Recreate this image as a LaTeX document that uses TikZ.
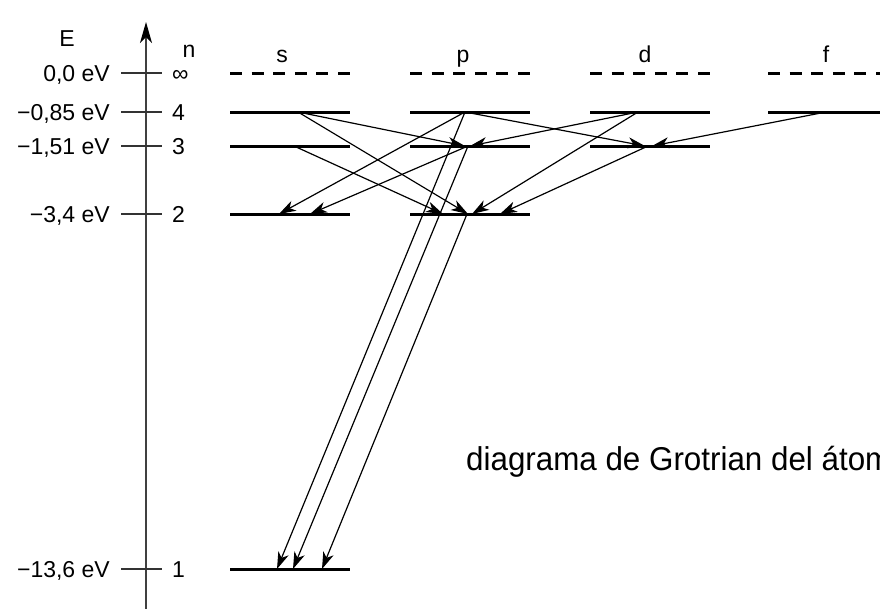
\documentclass[tikz,border=0pt]{standalone}
\usepackage{fontspec}
\setmainfont{Liberation Sans}
\newfontfamily\titlefont[FakeStretch=0.95]{Liberation Sans}
\usetikzlibrary{arrows.meta}

\begin{document}
\begin{tikzpicture}[x=1pt,y=-1pt, line join=round,
    elevel/.style={line width=3pt},
    jump/.style={-{Stealth[length=17pt,width=11pt,inset=5pt]},line width=1.2pt},
    etick/.style={line width=1.3pt,black!80},
    lab/.style={font=\fontsize{23}{24}\selectfont,inner sep=0pt},
    head/.style={font=\fontsize{23}{24}\selectfont,inner sep=0pt,anchor=base}]
        \useasboundingbox (0,0) rectangle (880,608);
        \clip (0,0) rectangle (880,608);
        % energy axis
        \draw[black!75,line width=1.5pt,-{Stealth[length=21pt,width=12pt,inset=6pt,color=black]}] (146,610)--(146,22);
        \node[head] (E) at (67,46) {E};
        \node[head] (n) at (189,57) {n};
        \foreach \yy/\ee/\nn [count=\i] in {73/{0,0 eV}/∞, 112/{−0,85 eV}/4, 146/{−1,51 eV}/3, 214/{−3,4 eV}/2, 569/{−13,6 eV}/1}{
            \draw[etick] (121,\yy)--(162,\yy);
            \node[lab,anchor=base east] (e\i) at (110,\yy+8) {\ee};
            \node[lab,anchor=base west] (n\i) at (172,\yy+8) {\nn};
        }
        % columns s p d f
        \node[head] (ls) at (282,62) {s};
        \node[head] (lp) at (463,62) {p};
        \node[head] (ld) at (645,62) {d};
        \node[head] (lf) at (826,62) {f};
        \foreach \x in {230,410,590,768}
            \draw[elevel,dash pattern=on 12pt off 9.6pt] (\x,73)--++(120,0);
        \foreach \x/\ys in {230/{112,146,214,569}, 410/{112,146,214}, 590/{112,146}, 768/{112}}
            \foreach \y in \ys \draw[elevel] (\x,\y)--++(120,0);
        % points on the levels
        \coordinate (s4) at (298,112);
        \coordinate (s3) at (294,146);
        \coordinate (s2) at (295,214);
        \coordinate (s1) at (300,569);
        \coordinate (p4) at (465,112);
        \coordinate (p3) at (468,146);
        \coordinate (p2) at (467,214);
        \coordinate (d4) at (638,112);
        \coordinate (d3) at (648,146);
        \coordinate (f4) at (826,112);
        % transitions
        \draw[jump] (s4)--([xshift=-3pt]p3);
        \draw[jump] (s4)--([xshift=1pt]p2);
        \draw[jump] (s3)--([xshift=-24pt]p2);
        \draw[jump] (p4)--([xshift=-16pt]s2);
        \draw[jump] (p3)--([xshift=15pt]s2);
        \draw[jump] (p4)--([xshift=-3pt]d3);
        \draw[jump] (p4)--([xshift=-23pt]s1);
        \draw[jump] (p3)--([xshift=-7pt]s1);
        \draw[jump] (p2)--([xshift=22pt]s1);
        \draw[jump] (d4)--([xshift=2pt]p3);
        \draw[jump] (d4)--([xshift=5pt]p2);
        \draw[jump] (d3)--([xshift=33pt]p2);
        \draw[jump] (f4)--([xshift=4pt]d3);
        \node[font=\titlefont\fontsize{33}{35}\selectfont,inner sep=0pt,anchor=base west] (title) at (466,470) {diagrama de Grotrian del átomo};
    \end{tikzpicture}
\end{document}
